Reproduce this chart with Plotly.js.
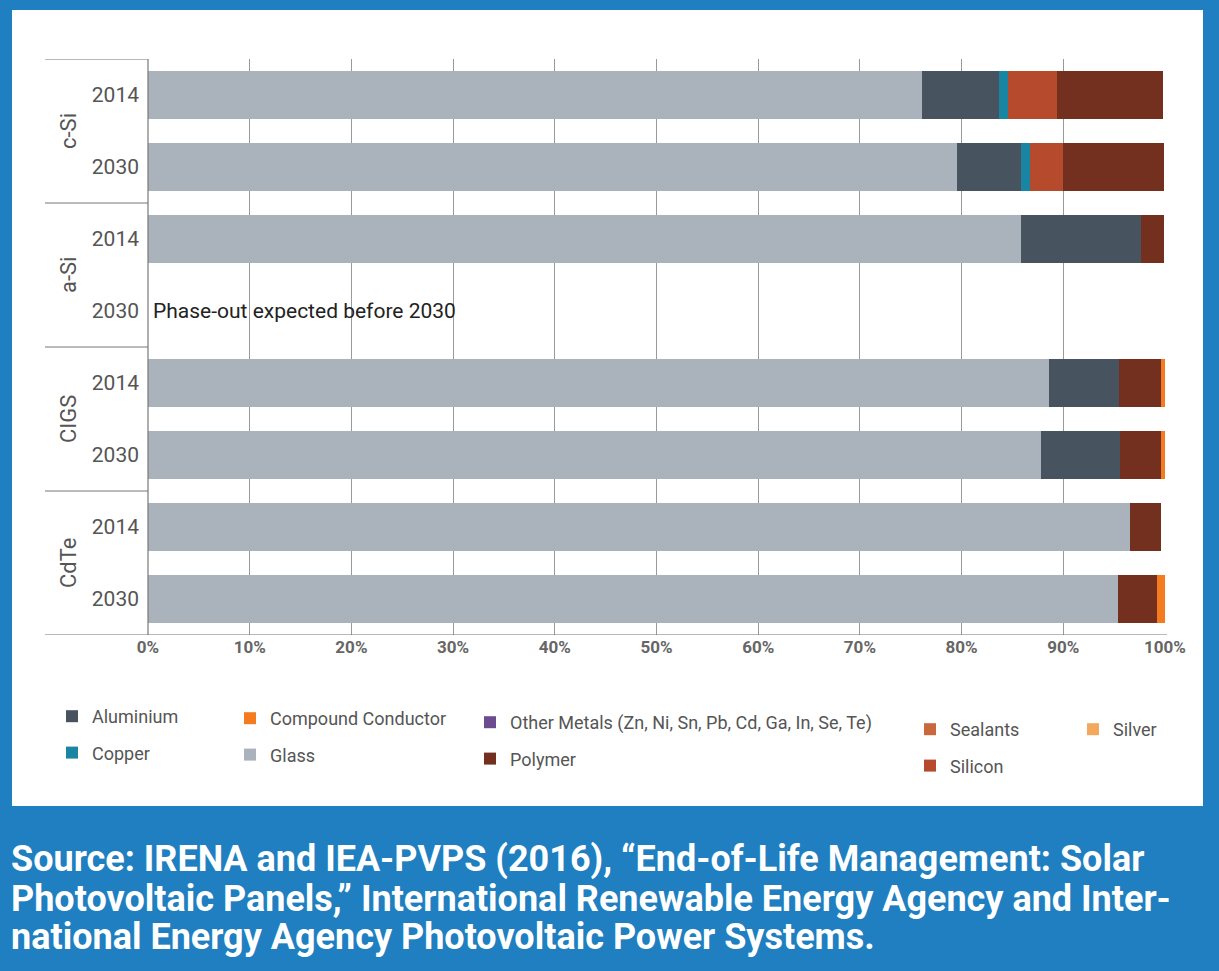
<!DOCTYPE html>
<html>
<head>
<meta charset="utf-8">
<script src="https://cdn.plot.ly/plotly-3.0.1.min.js"></script>
<style>
html,body{margin:0;padding:0;background:#1f7fc0;}
#chart{width:1219px;height:971px;}
</style>
</head>
<body>
<div id="chart"></div>
<script>
// ---- data ----
const rowIds = ['c-Si 2014','c-Si 2030','a-Si 2014','a-Si 2030','CIGS 2014','CIGS 2030','CdTe 2014','CdTe 2030'];
const years = ['2014','2030','2014','2030','2014','2030','2014','2030'];
const groups = ['c-Si','a-Si','CIGS','CdTe'];
const xTicks = [0,10,20,30,40,50,60,70,80,90,100];
const xTickText = ['0%','10%','20%','30%','40%','50%','60%','70%','80%','90%','100%'];

const glass      = [76.1, 79.5, 85.8, null, 88.6, 87.8, 96.6, 95.4];
const aluminium  = [7.6,  6.3,  11.8, null, 6.9,  7.8,  0,    0];
const copper     = [0.9,  0.9,  0,    null, 0,    0,    0,    0];
const silicon    = [4.8,  3.3,  0,    null, 0,    0,    0,    0];
const polymer    = [10.4, 9.9,  2.3,  null, 4.1,  4.0,  3.0,  3.8];
const compound   = [0,    0,    0,    null, 0.4,  0.4,  0,    0.8];
const otherMetals= [0,    0,    0,    null, 0,    0,    0,    0];
const sealants   = [0,    0,    0,    null, 0,    0,    0,    0];
const silver     = [0,    0,    0,    null, 0,    0,    0,    0];
const note = 'Phase-out expected before 2030';
const sourceLines = [
  'Source: IRENA and IEA-PVPS (2016), “End-of-Life Management: Solar',
  'Photovoltaic Panels,” International Renewable Energy Agency and Inter-',
  'national Energy Agency Photovoltaic Power Systems.'
];

// ---- styling ----
const FONT = 'Roboto, sans-serif';
const colors = {
  Glass:'#aab2bc', Aluminium:'#47535f', Copper:'#1886a2', Silicon:'#b64a2d',
  Polymer:'#73301f', 'Compound Conductor':'#f47b20',
  'Other Metals (Zn, Ni, Sn, Pb, Cd, Ga, In, Se, Te)':'#6b4c8e',
  Sealants:'#c9683c', Silver:'#f4a85c'
};

function bar(name, vals, legend, rank){
  return {type:'bar', orientation:'h', name:name, x:vals, y:rowIds,
    marker:{color:colors[name], line:{width:0}}, legend:legend, legendrank:rank,
    legendgroup:name, hoverinfo:'x+name'};
}
const traces = [
  bar('Glass', glass, 'legend2', 2),
  bar('Aluminium', aluminium, 'legend', 1),
  bar('Copper', copper, 'legend', 2),
  bar('Silicon', silicon, 'legend4', 2),
  bar('Polymer', polymer, 'legend3', 2),
  bar('Compound Conductor', compound, 'legend2', 1),
  bar('Other Metals (Zn, Ni, Sn, Pb, Cd, Ga, In, Se, Te)', otherMetals, 'legend3', 1),
  bar('Sealants', sealants, 'legend4', 1),
  bar('Silver', silver, 'legend5', 1)
];

// pixel helpers for paper coordinates (plot area: x 148..1165, y 59..635)
const L=148, R=1165, T=59, B=635;
const px = x => (x-L)/(R-L);
const py = y => (B-y)/(B-T);

function leg(xp, yp){
  return {x:px(xp), y:py(yp), xanchor:'left', yanchor:'top', orientation:'v',
    bgcolor:'rgba(0,0,0,0)', font:{family:FONT, size:18, color:'#555'},
    tracegroupgap:10, itemclick:false, itemdoubleclick:false};
}

const shapes = [
  {type:'rect', xref:'paper', yref:'paper', x0:px(12), x1:px(1203), y0:py(10), y1:py(806),
   fillcolor:'#ffffff', line:{width:0}, layer:'below'}
];
// group dividers
[-0.5,1.5,3.5,5.5].forEach(v=>{
  shapes.push({type:'line', xref:'paper', yref:'y', x0:px(45), x1:0, y0:v, y1:v,
    line:{color:'#777', width:1.2}});
});
shapes.push({type:'line', xref:'paper', yref:'y', x0:px(45), x1:px(1167), y0:7.5, y1:7.5,
  line:{color:'#777', width:1.2}});
shapes.push({type:'line', xref:'paper', yref:'paper', x0:0, x1:0, y0:0, y1:1,
  line:{color:'#777', width:1.2}});

const annotations = groups.map((g,i)=>({
  text:g, xref:'paper', yref:'y', x:px(68), y:2*i+0.5, textangle:-90,
  showarrow:false, font:{family:FONT, size:22, color:'#555'}, xanchor:'center', yanchor:'middle'
}));
annotations.push({text:note, xref:'paper', yref:'y', x:px(151), y:rowIds[3], xanchor:'left',
  yanchor:'middle', showarrow:false, font:{family:FONT, size:21, color:'#222'}});
const sourceY = [859, 899, 937];
sourceLines.forEach((t,i)=>{
  annotations.push({text:t, xref:'paper', yref:'paper', x:px(9), y:py(sourceY[i]), xanchor:'left',
    yanchor:'middle', align:'left', showarrow:false,
    font:{family:FONT, size:36, color:'#ffffff', weight:700}});
});

const layout = {
  width:1219, height:971,
  margin:{l:L, r:1219-R, t:T, b:971-B},
  paper_bgcolor:'#1f7fc0', plot_bgcolor:'#ffffff',
  barmode:'stack', bargap:0.333,
  font:{family:FONT, color:'#555'},
  xaxis:{range:[0,100], tickvals:xTicks, ticktext:xTickText, showgrid:true,
    gridcolor:'#999', gridwidth:1, zeroline:false, showline:false, ticks:'',
    tickfont:{family:FONT, size:17, color:'#666', weight:700}, fixedrange:true},
  yaxis:{type:'category', categoryorder:'array', categoryarray:rowIds, range:[7.5,-0.5],
    tickvals:rowIds, ticktext:years, ticks:'', showline:false, showgrid:false, zeroline:false,
    tickfont:{family:FONT, size:21, color:'#555'}, ticklabelstandoff:8, fixedrange:true},
  showlegend:true,
  legend: leg(52, 698),
  legend2: leg(230, 700),
  legend3: leg(470, 704),
  legend4: leg(910, 711),
  legend5: leg(1073, 711),
  shapes:shapes, annotations:annotations
};

Plotly.newPlot('chart', traces, layout, {staticPlot:true, displayModeBar:false});
</script>
</body>
</html>
